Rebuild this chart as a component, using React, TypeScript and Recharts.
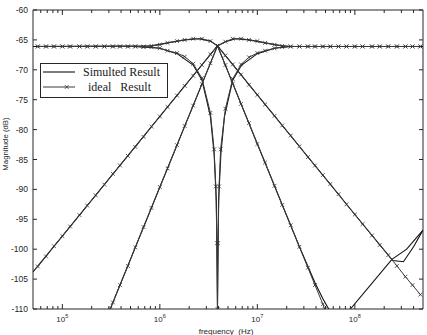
import React from 'react';
import { LineChart, Line, XAxis, YAxis } from 'recharts';

// ---------- frequency grid of the ideal (marked) curves, Hz ----------
const F_IDEAL = [
  5.6e4, 6.8e4, 8.2e4, 1e5, 1.2e5, 1.5e5, 1.8e5, 2.2e5, 2.7e5, 3.3e5, 3.9e5, 4.7e5,
  5.6e5, 6.8e5, 8.2e5, 1e6, 1.2e6, 1.5e6, 1.8e6, 2.2e6, 2.7e6, 3.3e6, 3.9e6, 4.7e6,
  5.6e6, 6.8e6, 8.2e6, 1e7, 1.2e7, 1.5e7, 1.8e7, 2.2e7, 2.7e7, 3.3e7, 3.9e7, 4.7e7,
  5.6e7, 6.8e7, 8.2e7, 1e8, 1.2e8, 1.5e8, 1.8e8, 2.2e8, 2.7e8, 3.3e8, 3.9e8, 4.7e8,
];

// 20 dB/dec band-pass, ideal (dB)
const BP1_IDEAL = [
  -102.9, -101.2, -99.5, -97.8, -96.2, -94.3, -92.7, -91.0, -89.2, -87.4, -86.0, -84.4,
  -82.9, -81.2, -79.5, -77.8, -76.2, -74.3, -72.7, -71.0, -69.2, -67.4, -66.0, -67.6,
  -69.1, -70.8, -72.5, -74.2, -75.8, -77.7, -79.3, -81.0, -82.8, -84.6, -86.0, -87.6,
  -89.1, -90.8, -92.5, -94.2, -95.8, -97.7, -99.3, -101.0, -102.8, -104.6, -106.0, -107.6,
];
// 20 dB/dec band-pass, simulated
const F_BP1_SIM = [5e4, 1e5, 1e6, 3.9e6, 1e7, 1e8, 2.45e8, 3.15e8, 4e8, 5e8];
const BP1_SIM = [-103.8, -97.8, -77.8, -66.0, -74.2, -94.2, -101.9, -102.1, -99.6, -96.8];

// 40 dB/dec band-pass, ideal
const F_BP2_IDEAL = [
  3.1e5, 3.3e5, 3.9e5, 4.7e5, 5.6e5, 6.8e5, 8.2e5, 1e6, 1.2e6, 1.5e6, 1.8e6, 2.2e6,
  2.7e6, 3.3e6, 3.9e6, 4.7e6, 5.6e6, 6.8e6, 8.2e6, 1e7, 1.2e7, 1.5e7, 1.8e7, 2.2e7,
  2.7e7, 3.3e7, 3.9e7, 4.7e7, 4.9e7,
];
const BP2_IDEAL = [
  -110, -108.9, -106.0, -102.8, -99.7, -96.3, -93.1, -89.6, -86.5, -82.6, -79.4, -76.0,
  -72.4, -68.9, -66.0, -69.2, -72.3, -75.7, -78.9, -82.4, -85.5, -89.4, -92.6, -96.0,
  -99.6, -103.1, -106.0, -109.2, -110,
];
// 40 dB/dec band-pass, simulated (with high-frequency feed-through)
const F_BP2_SIM = [3.1e5, 1e6, 3.9e6, 1e7, 2.7e7, 3.9e7, 4.7e7, 5.4e7, 7e7, 9e7, 2.4e8, 3.4e8, 5e8];
const BP2_SIM: (number | null)[] = [-110, -89.6, -66.0, -82.4, -99.6, -105.6, -108.3, -110, null, -110, -101.7, -100.0, -96.8];

// band-stop (notch), ideal
const F_BS_IDEAL = [
  5.6e4, 6.8e4, 8.2e4, 1e5, 1.2e5, 1.5e5, 1.8e5, 2.2e5, 2.7e5, 3.3e5, 3.9e5, 4.7e5,
  5.6e5, 6.8e5, 8.2e5, 1e6, 1.2e6, 1.5e6, 1.8e6, 2.2e6, 2.7e6, 3.3e6, 3.6e6, 3.75e6,
  3.85e6, 3.9e6, 3.95e6, 4.05e6, 4.2e6, 4.7e6, 5.6e6, 6.8e6, 8.2e6, 1e7, 1.2e7, 1.5e7,
  1.8e7, 2.2e7, 2.7e7, 3.3e7, 3.9e7, 4.7e7, 5.6e7, 6.8e7, 8.2e7, 1e8, 1.2e8, 1.5e8,
  1.8e8, 2.2e8, 2.7e8, 3.3e8, 3.9e8, 4.7e8,
];
const BS_IDEAL = [
  -66.1, -66.1, -66.1, -66.1, -66.1, -66.1, -66.1, -66.1, -66.1, -66.1, -66.1, -66.1,
  -66.1, -66.2, -66.2, -66.4, -66.8, -67.2, -67.8, -69.0, -71.4, -77.2, -83.3, -89.5,
  -99.0, -110, -99.0, -89.5, -83.3, -76.5, -71.5, -69.1, -67.9, -67.2, -66.8, -66.4,
  -66.2, -66.1, -66.1, -66.1, -66.1, -66.1, -66.1, -66.1, -66.1, -66.1, -66.1, -66.1,
  -66.1, -66.1, -66.1, -66.1, -66.1, -66.1,
];
// band-stop, simulated
const F_BS_SIM = [5e4, 5.6e5, 1e6, 1.5e6, 2.2e6, 2.7e6, 3.3e6, 3.6e6, 3.8e6, 3.9e6, 4.0e6, 4.23e6, 4.6e6, 5.6e6, 6.9e6, 1e7, 1.5e7, 2.2e7, 5e8];
const BS_SIM = [-66.1, -66.1, -66.4, -67.3, -69.2, -71.7, -77.8, -84.0, -92.0, -110, -92.0, -84.0, -77.8, -71.7, -69.2, -67.3, -66.4, -66.1, -66.1];

// combined (all-pass like) response, ideal on the F_IDEAL grid
const AP_IDEAL = [
  -66.1, -66.1, -66.1, -66.1, -66.1, -66.1, -66.1, -66.1, -66.1, -66.1, -66.1, -66.1,
  -66.1, -66.1, -66.0, -65.8, -65.5, -65.2, -65.0, -64.8, -64.8, -65.2, -66.0, -65.3,
  -64.8, -64.8, -65.0, -65.2, -65.5, -65.8, -66.0, -66.1, -66.1, -66.1, -66.1, -66.1,
  -66.1, -66.1, -66.1, -66.1, -66.1, -66.1, -66.1, -66.1, -66.1, -66.1, -66.1, -66.1,
];
const F_AP_SIM = [5e4, 8.2e5, 1.2e6, 1.8e6, 2.5e6, 3.3e6, 3.9e6, 4.7e6, 6e6, 8.2e6, 1.2e7, 1.8e7, 2.2e7, 5e8];
const AP_SIM = [-66.1, -66.0, -65.5, -65.0, -64.8, -65.2, -66.0, -65.3, -64.8, -65.0, -65.5, -66.0, -66.1, -66.1];

// ---------- axes ----------
const X_DOMAIN = [5e4, 5e8];
const Y_DOMAIN = [-110, -60];
const X_TICKS = [
  6e4, 7e4, 8e4, 9e4,
  1e5, 2e5, 3e5, 4e5, 5e5, 6e5, 7e5, 8e5, 9e5,
  1e6, 2e6, 3e6, 4e6, 5e6, 6e6, 7e6, 8e6, 9e6,
  1e7, 2e7, 3e7, 4e7, 5e7, 6e7, 7e7, 8e7, 9e7,
  1e8, 2e8, 3e8, 4e8,
];
const X_MAJOR = [1e5, 1e6, 1e7, 1e8];
const X_MAJOR_EXP = ['5', '6', '7', '8'];
const Y_TICKS = [-110, -105, -100, -95, -90, -85, -80, -75, -70, -65, -60];

const LEGEND_LABELS = ['Simulted Result', 'ideal   Result'];
const X_TITLE = 'frequency  (Hz)';
const Y_TITLE = 'Magnitude (dB)';

const INK = '#262626';
const SANS = 'Liberation Sans, Arial, Helvetica, sans-serif';
const SERIF = 'Liberation Serif, Times New Roman, serif';

const toData = (f: number[], v: (number | null)[]) => f.map((x, i) => ({ f: x, v: v[i] }));

const majorIndex = (v: number) => X_MAJOR.findIndex((m) => Math.abs(m - v) / m < 1e-6);

const BottomTick = (props: any) => {
  const { x, y, payload } = props;
  const mi = majorIndex(payload.value);
  const len = mi >= 0 ? 5 : 3;
  return (
    <g>
      <line x1={x} y1={y} x2={x} y2={y - len} stroke={INK} strokeWidth={1} />
      {mi >= 0 && (
        <text x={x} y={y + 13} textAnchor="middle" fontSize={8} fill={INK} fontFamily={SANS}>
          <tspan>10</tspan>
          <tspan dy={-4} fontSize={5.5}>{X_MAJOR_EXP[mi]}</tspan>
        </text>
      )}
    </g>
  );
};

const TopTick = (props: any) => {
  const { x, y, payload } = props;
  const mi = majorIndex(payload.value);
  const len = mi >= 0 ? 5 : 3;
  return <line x1={x} y1={y} x2={x} y2={y + len} stroke={INK} strokeWidth={1} />;
};

const LeftTick = (props: any) => {
  const { x, y, payload } = props;
  return (
    <g>
      <line x1={x} y1={y} x2={x + 4} y2={y} stroke={INK} strokeWidth={1} />
      <text x={x - 5} y={y + 3} textAnchor="end" fontSize={8.5} fill={INK} fontFamily={SANS}>
        {String(payload.value)}
      </text>
    </g>
  );
};

const RightTick = (props: any) => {
  const { x, y } = props;
  return <line x1={x} y1={y} x2={x - 4} y2={y} stroke={INK} strokeWidth={1} />;
};

const XMark = (props: any) => {
  const { cx, cy } = props;
  if (cx == null || cy == null || Number.isNaN(cx) || Number.isNaN(cy)) return <g key={props.key} />;
  const s = 1.9;
  return (
    <path
      key={props.key}
      d={`M${cx - s},${cy - s}L${cx + s},${cy + s}M${cx - s},${cy + s}L${cx + s},${cy - s}`}
      stroke="#333"
      strokeWidth={0.8}
      fill="none"
    />
  );
};

const simProps = { stroke: '#111', strokeWidth: 1.1, dot: false, activeDot: false, isAnimationActive: false, type: 'linear' as const };
const idealProps = { stroke: '#3a3a3a', strokeWidth: 1, dot: XMark, activeDot: false, isAnimationActive: false, type: 'linear' as const };

export default function App() {
  return (
    <div style={{ position: 'absolute', left: 0, top: 0, width: 427, height: 335, background: '#fff' }}>
      <LineChart width={427} height={335} margin={{ top: 0, right: 0, bottom: 0, left: 0 }}>
        <XAxis
          xAxisId={0}
          type="number"
          dataKey="f"
          scale="log"
          domain={X_DOMAIN}
          allowDataOverflow
          ticks={X_TICKS}
          height={26}
          tickSize={0}
          tickMargin={0}
          tickLine={false}
          interval={0}
          stroke={INK}
          tick={BottomTick}
        />
        <XAxis
          xAxisId="top"
          orientation="top"
          type="number"
          dataKey="f"
          scale="log"
          domain={X_DOMAIN}
          allowDataOverflow
          ticks={X_TICKS}
          height={10}
          tickSize={0}
          tickMargin={0}
          tickLine={false}
          interval={0}
          stroke={INK}
          tick={TopTick}
        />
        <YAxis
          yAxisId={0}
          type="number"
          domain={Y_DOMAIN}
          allowDataOverflow
          ticks={Y_TICKS}
          width={33}
          tickSize={0}
          tickMargin={0}
          tickLine={false}
          interval={0}
          stroke={INK}
          tick={LeftTick}
        />
        <YAxis
          yAxisId="r"
          orientation="right"
          type="number"
          domain={Y_DOMAIN}
          allowDataOverflow
          ticks={Y_TICKS}
          width={4}
          tickSize={0}
          tickMargin={0}
          tickLine={false}
          interval={0}
          stroke={INK}
          tick={RightTick}
        />
        <Line data={toData(F_BP1_SIM, BP1_SIM)} dataKey="v" name="bp1-sim" {...simProps} />
        <Line data={toData(F_BP2_SIM, BP2_SIM)} dataKey="v" name="bp2-sim" {...simProps} connectNulls={false} />
        <Line data={toData(F_BS_SIM, BS_SIM)} dataKey="v" name="bs-sim" {...simProps} />
        <Line data={toData(F_AP_SIM, AP_SIM)} dataKey="v" name="ap-sim" xAxisId="top" yAxisId="r" {...simProps} />
        <Line data={toData(F_IDEAL, BP1_IDEAL)} dataKey="v" name="bp1-ideal" {...idealProps} />
        <Line data={toData(F_BP2_IDEAL, BP2_IDEAL)} dataKey="v" name="bp2-ideal" {...idealProps} />
        <Line data={toData(F_BS_IDEAL, BS_IDEAL)} dataKey="v" name="bs-ideal" {...idealProps} />
        <Line data={toData(F_IDEAL, AP_IDEAL)} dataKey="v" name="ap-ideal" {...idealProps} />
      </LineChart>
      <svg
        width={427}
        height={335}
        style={{ position: 'absolute', left: 0, top: 0, pointerEvents: 'none' }}
      >
        <rect x={40.5} y={63.5} width={127} height={34} fill="#fff" stroke={INK} strokeWidth={1} />
        <line x1={43} y1={72} x2={75} y2={72} stroke="#111" strokeWidth={1.1} />
        <text x={83} y={76} fontSize={12} fill="#222" fontFamily={SERIF}>{LEGEND_LABELS[0]}</text>
        <line x1={43} y1={87} x2={75} y2={87} stroke="#3a3a3a" strokeWidth={1} />
        <path d="M64.8,85.1L68.6,88.9M64.8,88.9L68.6,85.1" stroke="#333" strokeWidth={0.8} fill="none" />
        <text x={88} y={91} fontSize={12} fill="#222" fontFamily={SERIF} xmlSpace="preserve" style={{ whiteSpace: 'pre' }}>{LEGEND_LABELS[1]}</text>
        <text x={226} y={334} textAnchor="middle" fontSize={8} fill={INK} fontFamily={SANS} xmlSpace="preserve" style={{ whiteSpace: 'pre' }}>{X_TITLE}</text>
        <text transform="translate(8,144) rotate(-90)" textAnchor="middle" fontSize={7.8} fill={INK} fontFamily={SANS}>{Y_TITLE}</text>
      </svg>
    </div>
  );
}
